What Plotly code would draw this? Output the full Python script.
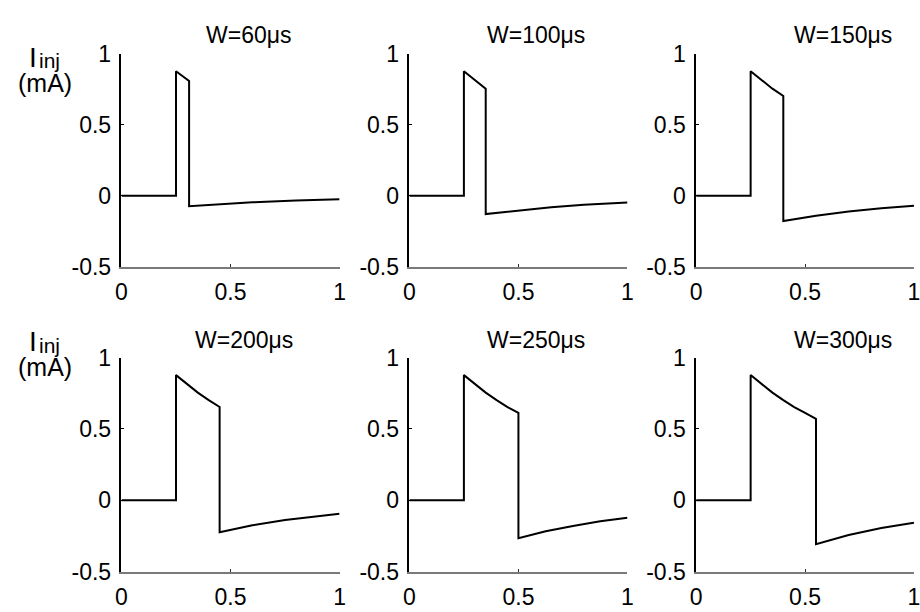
import plotly.graph_objects as go

# ---- data (time in ms, current in mA) ----
titles = ["W=60μs", "W=100μs", "W=150μs", "W=200μs", "W=250μs", "W=300μs"]

x_w60 = [0, 0.25, 0.25, 0.28, 0.31, 0.31, 0.45, 0.6, 0.8, 1.0]
y_w60 = [0, 0, 0.878, 0.843, 0.809, -0.073, -0.058, -0.046, -0.033, -0.024]

x_w100 = [0, 0.25, 0.25, 0.30, 0.35, 0.35, 0.5, 0.65, 0.8, 1.0]
y_w100 = [0, 0, 0.878, 0.815, 0.755, -0.129, -0.102, -0.080, -0.063, -0.047]

x_w150 = [0, 0.25, 0.25, 0.30, 0.35, 0.40, 0.40, 0.55, 0.7, 0.85, 1.0]
y_w150 = [0, 0, 0.878, 0.815, 0.755, 0.703, -0.178, -0.140, -0.111, -0.088, -0.070]

x_w200 = [0, 0.25, 0.25, 0.30, 0.35, 0.40, 0.45, 0.45, 0.6, 0.75, 0.9, 1.0]
y_w200 = [0, 0, 0.878, 0.815, 0.755, 0.703, 0.654, -0.224, -0.176, -0.139, -0.110, -0.095]

x_w250 = [0, 0.25, 0.25, 0.30, 0.35, 0.40, 0.45, 0.50, 0.50, 0.625, 0.75, 0.875, 1.0]
y_w250 = [0, 0, 0.878, 0.815, 0.755, 0.703, 0.654, 0.613, -0.266, -0.218, -0.180, -0.148, -0.122]

x_w300 = [0, 0.25, 0.25, 0.30, 0.35, 0.40, 0.45, 0.50, 0.55, 0.55, 0.7, 0.85, 1.0]
y_w300 = [0, 0, 0.878, 0.815, 0.755, 0.703, 0.654, 0.613, 0.571, -0.309, -0.244, -0.195, -0.157]

series_x = [x_w60, x_w100, x_w150, x_w200, x_w250, x_w300]
series_y = [y_w60, y_w100, y_w150, y_w200, y_w250, y_w300]

x_ticks = [0, 0.5, 1]
x_ticktext = ["0", "0.5", "1"]
y_ticks = [-0.5, 0, 0.5, 1]
y_ticktext = ["-0.5", "0", "0.5", "1"]

# ---- layout (pixels -> paper) ----
W, H = 920, 612
col_px = [(117, 338), (408.7, 629.7), (699.3, 920)]
row_px = [(42.7, 265), (360, 583.3)]
title_px = [(246, 23), (537, 23), (848, 23), (241.5, 341), (537, 341), (848, 341)]

FONT = "Liberation Sans, Arial, Helvetica, sans-serif"

fig = go.Figure()
layout = dict(
    width=W, height=H,
    margin=dict(l=0, r=0, t=0, b=0),
    paper_bgcolor="white", plot_bgcolor="white",
    showlegend=False,
    font=dict(family=FONT, size=23, color="black"),
)
annotations = []
for i in range(6):
    r, c = divmod(i, 3)
    n = "" if i == 0 else str(i + 1)
    xa, ya = "xaxis" + n, "yaxis" + n
    x0, x1 = col_px[c]
    ytop, ybot = row_px[r]
    layout[xa] = dict(
        domain=[x0 / W, x1 / W],
        range=[0, 1], anchor="y" + n,
        showline=True, linecolor="#7a7a7a", linewidth=1.5,
        ticks="inside", ticklen=3, tickcolor="#333", tickwidth=1,
        tickvals=x_ticks, ticktext=x_ticktext, showgrid=False, zeroline=False,
        ticklabelstandoff=4, ticklabeloverflow="allow",
    )
    layout[ya] = dict(
        domain=[1 - ybot / H, 1 - ytop / H],
        range=[-0.5, 1], anchor="x" + n,
        showline=True, linecolor="black", linewidth=1.5,
        ticks="inside", ticklen=3, tickcolor="black", tickwidth=1,
        tickvals=y_ticks, ticktext=y_ticktext, showgrid=False, zeroline=False,
        ticklabelstandoff=4, ticklabeloverflow="allow",
    )
    fig.add_trace(go.Scatter(
        x=series_x[i], y=series_y[i], mode="lines",
        line=dict(color="black", width=2),
        xaxis="x" + n, yaxis="y" + n, cliponaxis=False,
    ))
    tx, ty = title_px[i]
    annotations.append(dict(
        text=titles[i], x=tx / W, y=1 - ty / H, xref="paper", yref="paper",
        xanchor="center", yanchor="middle", showarrow=False,
        font=dict(size=23, family=FONT, color="black"),
    ))

for yc in [45, 342]:
    annotations.append(dict(
        text="I", x=21 / W, y=1 - (yc + 1) / H, xref="paper", yref="paper",
        xanchor="left", yanchor="middle", showarrow=False,
        font=dict(size=28, family=FONT, color="black"),
    ))
    annotations.append(dict(
        text="inj", x=31 / W, y=1 - (yc + 5) / H, xref="paper", yref="paper",
        xanchor="left", yanchor="middle", showarrow=False,
        font=dict(size=21, family=FONT, color="black"),
    ))
    annotations.append(dict(
        text="(mA)", x=40 / W, y=1 - (yc + 28) / H, xref="paper", yref="paper",
        xanchor="center", yanchor="middle", showarrow=False,
        font=dict(size=25, family=FONT, color="black"),
    ))

layout["annotations"] = annotations
fig.update_layout(**layout)
fig.write_html("out.html")
